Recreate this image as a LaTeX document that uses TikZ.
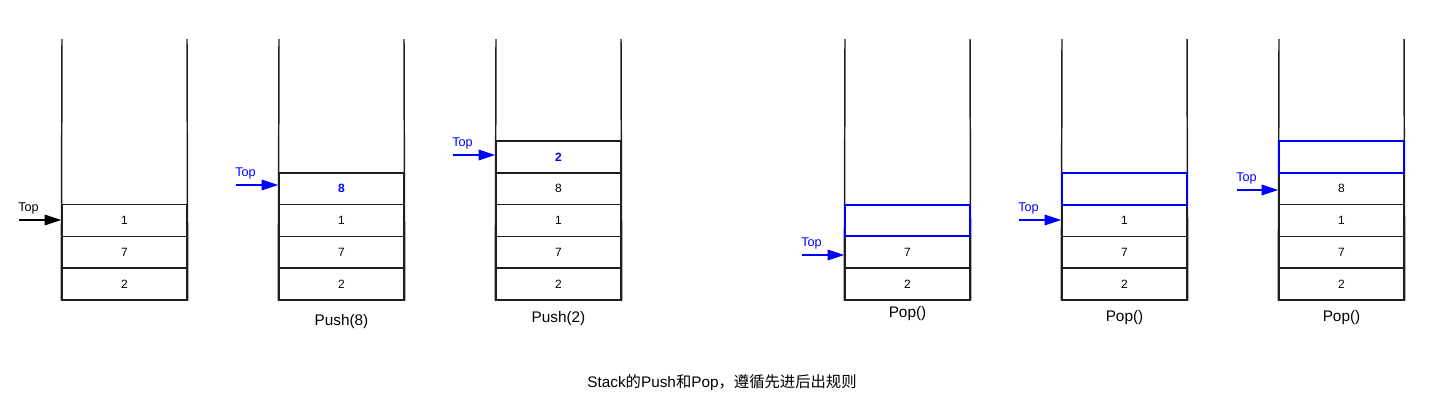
\documentclass[tikz,border=0pt]{standalone}
\usepackage{fontspec}
\setmainfont{Liberation Sans}
\newfontfamily\cjk{Noto Sans CJK SC}
\usetikzlibrary{arrows.meta}
\definecolor{pblue}{RGB}{0,0,255}
\definecolor{wallgray}{RGB}{30,30,30}
\tikzset{
  cell/.style={draw=wallgray, line width=1.1pt, minimum width=93.75pt, minimum height=23.85pt, inner sep=0pt, font=\fontsize{9}{10}\selectfont},
  newcell/.style={cell, text=pblue, font=\fontsize{9}{10}\selectfont\bfseries},
  gonecell/.style={cell, draw=pblue, line width=1.5pt},
  wall/.style={draw=wallgray, line width=1.1pt},
  toparrow/.style={line width=1pt, -{Triangle[length=12.5pt,width=8pt]}},
  toptext/.style={anchor=south west, inner sep=0pt, font=\fontsize{9.5}{10}\selectfont},
  oplabel/.style={font=\fontsize{11.5}{12}\selectfont, inner sep=0pt},
}
\begin{document}
\begin{tikzpicture}[x=0.75pt,y=-0.75pt]
\useasboundingbox (0,0) rectangle (1456,405);
% ---------- stack 1 ----------
\node[cell] (a1) at (124.5,284.1) {2};
\node[cell] (a2) at (124.5,252.3) {7};
\node[cell] (a3) at (124.5,220.5) {1};
\coordinate (at1) at (62,39); \coordinate (at2) at (187,39);
\draw[wall] (at1) -- (a1.south west); \draw[wall] (at2) -- (a1.south east);
\coordinate (ap) at (19,220);
\draw[toparrow, black] (ap) -- (ap -| a3.west);
\node[toptext] (atop) at (18,214) {Top};
% ---------- stack 2 ----------
\node[cell] (b1) at (341.5,284.1) {2};
\node[cell] (b2) at (341.5,252.3) {7};
\node[cell] (b3) at (341.5,220.5) {1};
\node[newcell] (b4) at (341.5,188.7) {8};
\coordinate (bt1) at (279,39); \coordinate (bt2) at (404,39);
\draw[wall] (bt1) -- (b1.south west); \draw[wall] (bt2) -- (b1.south east);
\coordinate (bp) at (236,185);
\draw[toparrow, pblue] (bp) -- (bp -| b4.west);
\node[toptext, text=pblue] (btop) at (235,179) {Top};
\node[oplabel] (blab) at (341.5,322) {Push(8)};
% ---------- stack 3 ----------
\node[cell] (c1) at (558.5,284.1) {2};
\node[cell] (c2) at (558.5,252.3) {7};
\node[cell] (c3) at (558.5,220.5) {1};
\node[cell] (c4) at (558.5,188.7) {8};
\node[newcell] (c5) at (558.5,156.9) {2};
\coordinate (ct1) at (496,39); \coordinate (ct2) at (621,39);
\draw[wall] (ct1) -- (c1.south west); \draw[wall] (ct2) -- (c1.south east);
\coordinate (cp) at (453,155);
\draw[toparrow, pblue] (cp) -- (cp -| c5.west);
\node[toptext, text=pblue] (ctop) at (452,149) {Top};
\node[oplabel] (clab) at (558.5,319) {Push(2)};
% ---------- stack 4 ----------
\node[cell] (d1) at (907.5,284.1) {2};
\node[cell] (d2) at (907.5,252.3) {7};
\coordinate (dt1) at (845,39); \coordinate (dt2) at (970,39);
\draw[wall] (dt1) -- (d1.south west); \draw[wall] (dt2) -- (d1.south east);
\node[gonecell] (d3) at (907.5,220.5) {};
\coordinate (dp) at (802,255);
\draw[toparrow, pblue] (dp) -- (dp -| d2.west);
\node[toptext, text=pblue] (dtop) at (801,249) {Top};
\node[oplabel] (dlab) at (907.5,314) {Pop()};
% ---------- stack 5 ----------
\node[cell] (e1) at (1124.5,284.1) {2};
\node[cell] (e2) at (1124.5,252.3) {7};
\node[cell] (e3) at (1124.5,220.5) {1};
\coordinate (et1) at (1062,39); \coordinate (et2) at (1187,39);
\draw[wall] (et1) -- (e1.south west); \draw[wall] (et2) -- (e1.south east);
\node[gonecell] (e4) at (1124.5,188.7) {};
\coordinate (ep) at (1019,220);
\draw[toparrow, pblue] (ep) -- (ep -| e3.west);
\node[toptext, text=pblue] (etop) at (1018,214) {Top};
\node[oplabel] (elab) at (1124.5,318) {Pop()};
% ---------- stack 6 ----------
\node[cell] (f1) at (1341.5,284.1) {2};
\node[cell] (f2) at (1341.5,252.3) {7};
\node[cell] (f3) at (1341.5,220.5) {1};
\node[cell] (f4) at (1341.5,188.7) {8};
\coordinate (ft1) at (1279,39); \coordinate (ft2) at (1404,39);
\draw[wall] (ft1) -- (f1.south west); \draw[wall] (ft2) -- (f1.south east);
\node[gonecell] (f5) at (1341.5,156.9) {};
\coordinate (fp) at (1237,190);
\draw[toparrow, pblue] (fp) -- (fp -| f4.west);
\node[toptext, text=pblue] (ftop) at (1236,184) {Top};
\node[oplabel] (flab) at (1341.5,318) {Pop()};
% ---------- caption ----------
\node[font=\fontsize{11.5}{12}\selectfont, inner sep=0pt] (cap) at (722,383) {Stack{\cjk 的}Push{\cjk 和}Pop{\cjk ，遵循先进后出规则}};
\end{tikzpicture}
\end{document}
